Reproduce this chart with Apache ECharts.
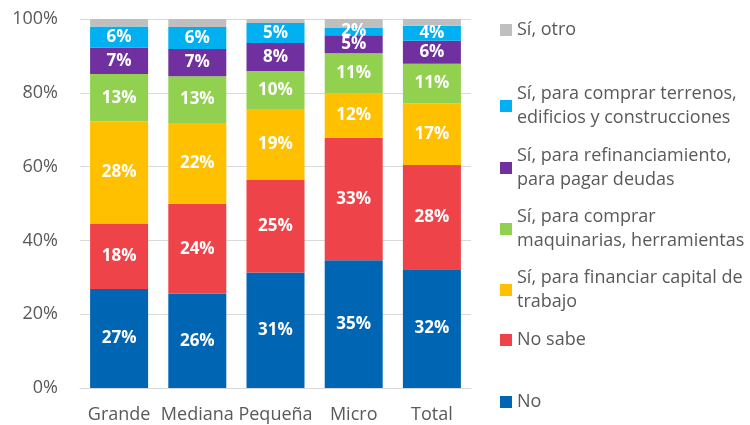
<!DOCTYPE html>
<html>
<head>
<meta charset="utf-8">
<script src="https://cdn.jsdelivr.net/npm/echarts@6/dist/echarts.min.js"></script>
<style>html,body{margin:0;padding:0;background:#fff;}#c{width:750px;height:425px;}</style>
</head>
<body>
<div id="c"></div>
<script>
const categories = ['Grande', 'Mediana', 'Pequeña', 'Micro', 'Total'];
const seriesNames = [
  'No',
  'No sabe',
  'Sí, para financiar capital de trabajo',
  'Sí, para comprar maquinarias, herramientas',
  'Sí, para refinanciamiento, para pagar deudas',
  'Sí, para comprar terrenos, edificios y construcciones',
  'Sí, otro'
];
const legendLines = {
  'No': 'No',
  'No sabe': 'No sabe',
  'Sí, para financiar capital de trabajo': 'Sí, para financiar capital de\ntrabajo',
  'Sí, para comprar maquinarias, herramientas': 'Sí, para comprar\nmaquinarias, herramientas',
  'Sí, para refinanciamiento, para pagar deudas': 'Sí, para refinanciamiento,\npara pagar deudas',
  'Sí, para comprar terrenos, edificios y construcciones': 'Sí, para comprar terrenos,\nedificios y construcciones',
  'Sí, otro': 'Sí, otro'
};
const noValues        = [26.8, 25.6, 31.3, 34.6, 32.2];
const noSabeValues    = [17.8, 24.3, 25.2, 33.2, 28.2];
const capitalValues   = [27.6, 21.9, 19.1, 12.1, 16.7];
const maquinasValues  = [12.9, 12.7, 10.3, 10.8, 10.8];
const refinValues     = [7.2, 7.4, 7.6, 4.9, 6.2];
const terrenosValues  = [5.7, 5.9, 5.4, 2.1, 4.1];
const otroValues      = [2.0, 2.2, 1.1, 2.3, 1.8];
const yTicks = [0, 20, 40, 60, 80, 100];

const allValues = [noValues, noSabeValues, capitalValues, maquinasValues, refinValues, terrenosValues, otroValues];
const colors = ['#0066B3', '#EE4348', '#FFC000', '#92D050', '#7030A0', '#00B0F0', '#BFBFBF'];
const FONT = 'Open Sans';

const series = seriesNames.map((name, i) => ({
  name: name,
  type: 'bar',
  stack: 'total',
  barWidth: 58,
  data: allValues[i],
  itemStyle: { color: colors[i] },
  label: {
    show: i < 6,
    position: 'inside',
    color: '#fff',
    fontWeight: 'bold',
    fontFamily: FONT,
    fontSize: 17,
    formatter: p => Math.round(p.value) + '%'
  }
}));

// legend: icon centers (px)
const legendCenters = {
  'Sí, otro': 28,
  'Sí, para comprar terrenos, edificios y construcciones': 92,
  'Sí, para refinanciamiento, para pagar deudas': 154,
  'Sí, para comprar maquinarias, herramientas': 215,
  'Sí, para financiar capital de trabajo': 276,
  'No sabe': 338,
  'No': 400
};
const legends = seriesNames.map(name => {
  const two = legendLines[name].indexOf('\n') >= 0;
  return {
    data: [name],
    left: 500,
    top: legendCenters[name] - (two ? 22 : 10),
    padding: 0,
    itemWidth: 12,
    itemHeight: 12,
    itemGap: 5,
    icon: 'rect',
    selectedMode: false,
    formatter: n => legendLines[n],
    textStyle: {
      fontFamily: FONT,
      fontSize: 18,
      color: '#595959',
      lineHeight: 24,
      padding: two ? [24, 0, 0, 0] : 0
    }
  };
});

const chart = echarts.init(document.getElementById('c'));
chart.setOption({
  animation: false,
  color: colors,
  grid: { left: 80, right: 279, top: 19, bottom: 37, containLabel: false },
  legend: legends,
  xAxis: {
    type: 'category',
    data: categories,
    axisTick: { show: false },
    axisLine: { lineStyle: { color: '#D9D9D9', width: 1 } },
    axisLabel: { color: '#595959', fontFamily: FONT, fontSize: 18, margin: 18, interval: 0 }
  },
  yAxis: {
    type: 'value',
    min: yTicks[0],
    max: yTicks[yTicks.length - 1],
    interval: 20,
    axisLine: { show: false },
    axisTick: { show: false },
    splitLine: { lineStyle: { color: '#D9D9D9', width: 1 } },
    axisLabel: { color: '#595959', fontFamily: FONT, fontSize: 18, margin: 22, formatter: '{value}%' }
  },
  series: series
});
</script>
</body>
</html>
